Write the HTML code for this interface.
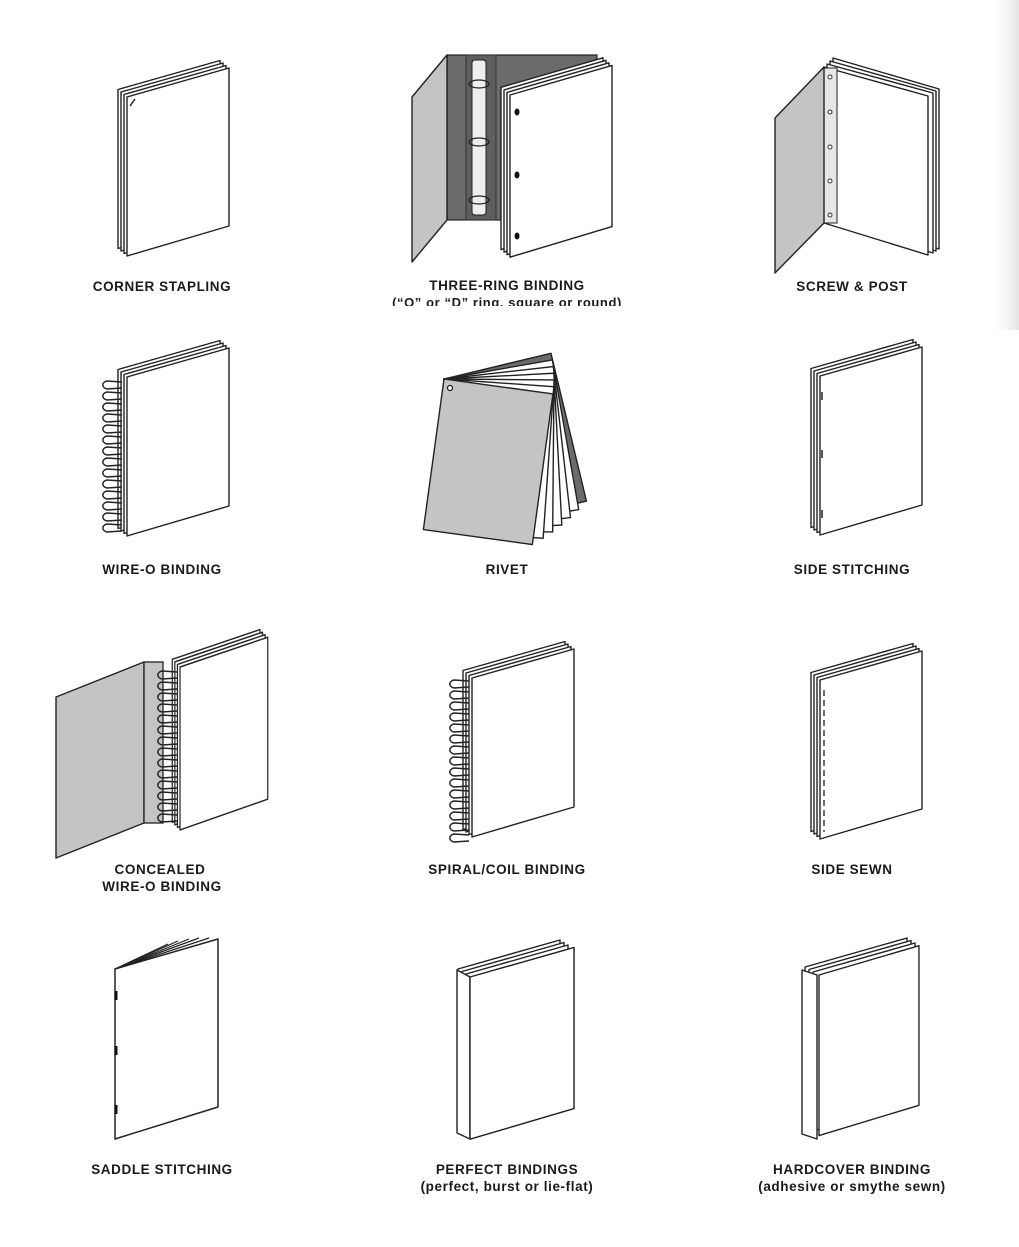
<!DOCTYPE html>
<html><head><meta charset="utf-8"><style>
html,body{margin:0;padding:0;background:#fff}
svg{display:block}
text{font-family:"Liberation Sans",Arial,sans-serif;font-weight:bold;font-size:13.5px;fill:#1a1a1a;letter-spacing:0.6px;text-anchor:middle}
</style></head><body>
<svg width="1019" height="1247" viewBox="0 0 1019 1247" xmlns="http://www.w3.org/2000/svg">
<defs>
<linearGradient id="sh" x1="0" x2="1"><stop offset="0" stop-color="#fff" stop-opacity="0"/><stop offset="1" stop-color="#e4e4e4"/></linearGradient>
<polygon id="pg" points="0,0 102,-29 102,129 0,159" fill="#fff" stroke="#222" stroke-width="1.4" stroke-linejoin="round"/>
<g id="stk">
<use href="#pg" x="-9" y="-7.5"/><use href="#pg" x="-6" y="-5"/><use href="#pg" x="-3" y="-2.5"/><use href="#pg"/>
</g>
<path id="loop" d="M14,-2 L-1,-3 A6,4.2 0 0 0 -1,5 L14,4" fill="none" stroke="#222" stroke-width="1.5"/>
<g id="coils">
<use href="#loop" y="0"/><use href="#loop" y="11"/><use href="#loop" y="22"/><use href="#loop" y="33"/><use href="#loop" y="44"/><use href="#loop" y="55"/><use href="#loop" y="66"/><use href="#loop" y="77"/><use href="#loop" y="88"/><use href="#loop" y="99"/><use href="#loop" y="110"/><use href="#loop" y="121"/><use href="#loop" y="132"/><use href="#loop" y="143"/>
</g>
</defs>
<rect x="985" y="0" width="34" height="330" fill="url(#sh)"/>

<use href="#stk" x="127" y="97"/>
<line x1="130" y1="106" x2="135" y2="99" stroke="#222" stroke-width="1.5"/>

<rect x="447" y="55" width="150" height="165" fill="#6b6b6b" stroke="#222" stroke-width="1.2"/>
<rect x="466" y="55" width="30" height="165" fill="#5e5e5e" stroke="#333" stroke-width="1"/>
<rect x="472" y="60" width="14" height="155" rx="3" fill="#eee" stroke="#222" stroke-width="1"/>
<g fill="none" stroke="#222" stroke-width="1.3">
<ellipse cx="479" cy="84" rx="10" ry="4"/><ellipse cx="479" cy="142" rx="10" ry="4"/><ellipse cx="479" cy="200" rx="10" ry="4"/>
</g>
<polygon points="412,97 447,55 447,220 412,262" fill="#c4c4c4" stroke="#222" stroke-width="1.4" stroke-linejoin="round"/>
<g transform="translate(510,95) scale(1,1.02)"><use href="#stk"/></g>
<g fill="#111"><ellipse cx="517" cy="112" rx="2.5" ry="3.5"/><ellipse cx="517" cy="175" rx="2.5" ry="3.5"/><ellipse cx="517" cy="236" rx="2.5" ry="3.5"/></g>

<g fill="#fff" stroke="#222" stroke-width="1.4" stroke-linejoin="round">
<polygon points="833,58 939,89 939,249 833,216"/>
<polygon points="830,61 936,91 936,251 830,218"/>
<polygon points="827,64 933,93 933,253 827,220"/>
<polygon points="824,67 928,96 928,255 824,223"/>
</g>
<rect x="824" y="68" width="13" height="155" fill="#e6e6e6" stroke="#222" stroke-width="1"/>
<g fill="#fff" stroke="#333" stroke-width="1"><circle cx="830" cy="77" r="2"/><circle cx="830" cy="112" r="2"/><circle cx="830" cy="147" r="2"/><circle cx="830" cy="181" r="2"/><circle cx="830" cy="215" r="2"/></g>
<polygon points="775,118 824,67 824,223 775,273" fill="#c4c4c4" stroke="#222" stroke-width="1.4" stroke-linejoin="round"/>

<use href="#stk" x="127" y="377"/>
<use href="#coils" x="108" y="384"/>

<g stroke="#222" stroke-width="1.4" stroke-linejoin="round" transform="translate(444,379)">
<rect width="110" height="152" fill="#6b6b6b" transform="rotate(-13.5)"/>
<rect width="110" height="152" fill="#fff" transform="rotate(-10)"/>
<rect width="110" height="152" fill="#fff" transform="rotate(-6.5)"/>
<rect width="110" height="152" fill="#fff" transform="rotate(-3)"/>
<rect width="110" height="152" fill="#fff" transform="rotate(0.5)"/>
<rect width="110" height="152" fill="#fff" transform="rotate(4)"/>
<rect width="110" height="152" fill="#c4c4c4" transform="rotate(7.8)"/>
<circle cx="6" cy="9" r="2.5" fill="#fff" stroke-width="1.3"/>
</g>

<use href="#stk" x="820" y="376"/>
<g stroke="#222" stroke-width="1.5"><line x1="822" y1="392" x2="822" y2="400"/><line x1="822" y1="450" x2="822" y2="458"/><line x1="822" y1="510" x2="822" y2="518"/></g>

<polygon points="56,697 144,662 144,823 56,858" fill="#c4c4c4" stroke="#222" stroke-width="1.4" stroke-linejoin="round"/>
<rect x="144" y="662" width="19" height="161" fill="#c4c4c4" stroke="#222" stroke-width="1.3"/>
<g transform="translate(180,667) scale(0.86,1.025)"><use href="#stk"/></g>
<use href="#coils" x="163" y="674"/>

<use href="#stk" x="472" y="678"/>
<use href="#coils" x="455" y="683"/>
<use href="#loop" x="455" y="837"/>

<use href="#stk" x="820" y="680"/>
<line x1="824" y1="690" x2="824" y2="832" stroke="#222" stroke-width="1.3" stroke-dasharray="6,4"/>

<g fill="none" stroke="#222" stroke-width="1.2">
<path d="M115,969 L168,944"/><path d="M115,969 L178,941"/><path d="M115,969 L189,939"/><path d="M115,969 L199,938"/><path d="M115,969 L209,938"/>
</g>
<polygon points="115,969 218,939 218,1107 115,1139" fill="#fff" stroke="#222" stroke-width="1.5" stroke-linejoin="round"/>
<g stroke="#111" stroke-width="3"><line x1="116" y1="991" x2="116" y2="1000"/><line x1="116" y1="1046" x2="116" y2="1055"/><line x1="116" y1="1105" x2="116" y2="1114"/></g>

<g transform="translate(470,977)">
<use href="#pg" x="-12" y="-8"/><use href="#pg" x="-8" y="-5.5"/><use href="#pg" x="-4" y="-3"/>
</g>
<polygon points="457,970 470,977 470,1139 457,1133" fill="#fff" stroke="#222" stroke-width="1.4" stroke-linejoin="round"/>
<g transform="translate(470,977) scale(1.02,1.02)"><use href="#pg"/></g>

<g transform="translate(817,975)">
<use href="#pg" x="-12" y="-8"/><use href="#pg" x="-8" y="-5.5"/><use href="#pg" x="-4" y="-3"/>
</g>
<polygon points="802,970 817,975 817,1139 802,1134" fill="#fff" stroke="#222" stroke-width="1.4" stroke-linejoin="round"/>
<g transform="translate(819,975) scale(0.98,1.01)"><use href="#pg"/></g>

<text x="162" y="291">CORNER STAPLING</text>
<text x="507" y="290">THREE-RING BINDING</text>
<text x="507" y="307" style="font-size:13px">(“O” or “D” ring, square or round)</text>
<rect x="360" y="306" width="300" height="12" fill="#fff"/>
<text x="852" y="291">SCREW &amp; POST</text>
<text x="162" y="574">WIRE-O BINDING</text>
<text x="507" y="574">RIVET</text>
<text x="852" y="574">SIDE STITCHING</text>
<text x="160" y="874">CONCEALED</text>
<text x="162" y="891">WIRE-O BINDING</text>
<text x="507" y="874">SPIRAL/COIL BINDING</text>
<text x="852" y="874">SIDE SEWN</text>
<text x="162" y="1174">SADDLE STITCHING</text>
<text x="507" y="1174">PERFECT BINDINGS</text>
<text x="507" y="1191">(perfect, burst or lie-flat)</text>
<text x="852" y="1174">HARDCOVER BINDING</text>
<text x="852" y="1191">(adhesive or smythe sewn)</text>
</svg>
</body></html>
